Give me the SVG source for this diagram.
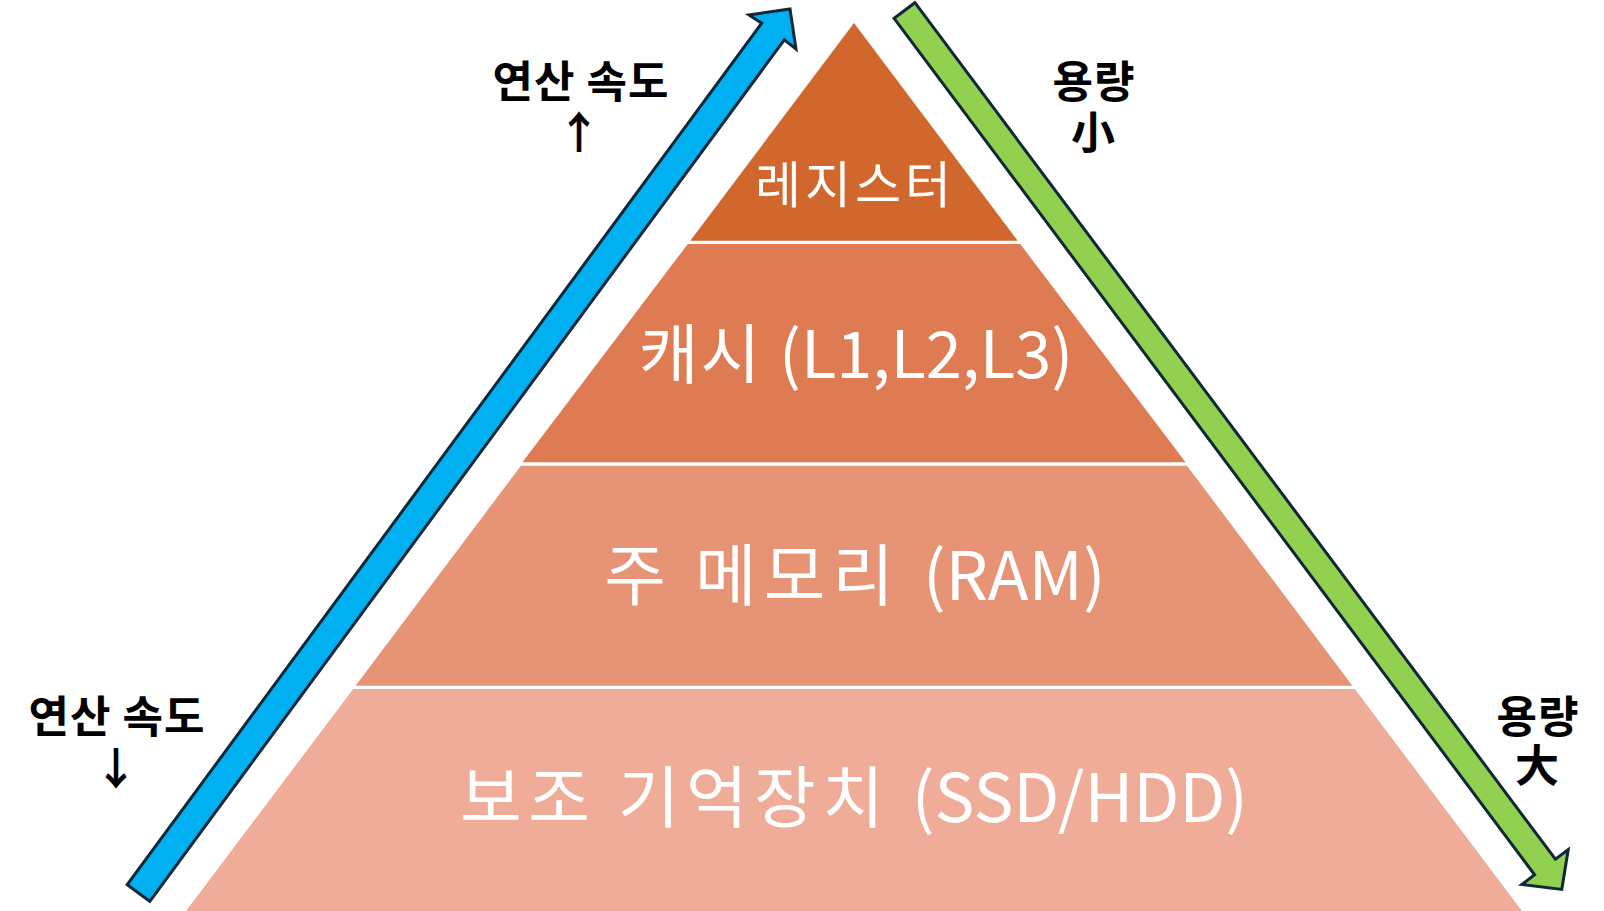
<svg xmlns="http://www.w3.org/2000/svg" width="1604" height="911" viewBox="0 0 1604 911">
<style>
.lt{font-family:"Noto Sans CJK KR","Liberation Sans",sans-serif;fill:#fff;text-anchor:middle}
.ko{letter-spacing:7px}
.lb{font-family:"Noto Sans CJK KR","Liberation Sans",sans-serif;font-weight:bold;font-size:44px;fill:#000;text-anchor:middle}
.arr{stroke:#0E2838;stroke-width:3;stroke-linejoin:miter}
</style>
<rect width="1604" height="911" fill="#fff"/>
<g id="layer-register">
<polygon points="854,23 1017.7,240.7 690.3,240.7" fill="#D2672D"/>
<text class="lt" x="855" y="203" font-size="50" letter-spacing="4">레지스터</text>
</g>
<g id="layer-cache">
<polygon points="687.8,244 1020.2,244 1185.6,462.3 522.4,462.3" fill="#DF7B52"/>
<text class="lt" x="856" y="378" font-size="65"><tspan letter-spacing="2">캐시 </tspan>(L1,L2,L3)</text>
</g>
<g id="layer-ram">
<polygon points="521,465.7 1187,465.7 1352.4,685.7 355.6,685.7" fill="#E79375"/>
<text class="lt" x="855" y="600" font-size="67"><tspan class="ko">주 메모리 </tspan>(RAM)</text>
</g>
<g id="layer-storage">
<polygon points="353.2,689 1354.8,689 1522,911 186,911" fill="#EFAD99"/>
<text class="lt" x="854" y="822" font-size="67"><tspan letter-spacing="6.5">보조 기억장치 </tspan>(SSD/HDD)</text>
</g>
<g id="connectors">
<polygon class="arr" fill="#00B0F0" points="127.2,884.7 761.7,23.2 749,15 790,9 796,49 784.3,39.8 149.8,901.3"/>
<polygon class="arr" fill="#92D050" points="914.9,2.7 1555.4,859.2 1568.2,849.6 1561.8,889.4 1521.8,884.4 1534.6,874.8 894.1,18.3"/>
</g>
<g id="label-speed-up">
<text class="lb"><tspan x="581" y="98" letter-spacing="1">연산 속도</tspan><tspan x="579" y="149">↑</tspan></text>
</g>
<g id="label-speed-down">
<text class="lb"><tspan x="117" y="733" letter-spacing="1">연산 속도</tspan><tspan x="116" y="785">↓</tspan></text>
</g>
<g id="label-cap-small">
<text class="lb"><tspan x="1094" y="98" letter-spacing="1">용량</tspan><tspan x="1093" y="149">小</tspan></text>
</g>
<g id="label-cap-large">
<text class="lb"><tspan x="1538" y="733" letter-spacing="1">용량</tspan><tspan x="1537" y="782">大</tspan></text>
</g>
</svg>
